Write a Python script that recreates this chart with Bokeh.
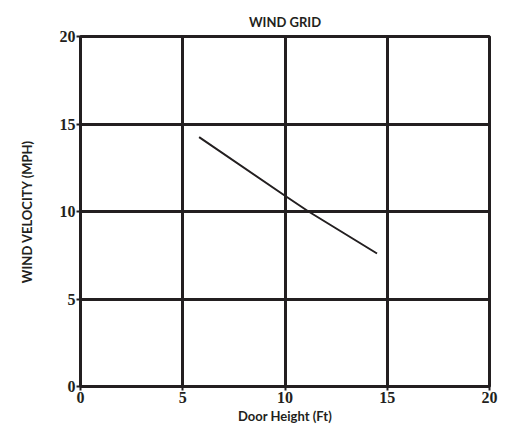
from bokeh.plotting import figure
from bokeh.embed import file_html
from bokeh.resources import INLINE
from bokeh.models import Range1d, FixedTicker

door_height = [5.8, 10.0, 11.15, 14.5]
wind_velocity = [14.25, 10.9, 10.0, 7.6]
x_ticks = [0, 5, 10, 15, 20]
y_ticks = [0, 5, 10, 15, 20]
title_text = "WIND GRID"

ink = "#231f20"

p = figure(width=498, height=426, output_backend="svg", toolbar_location=None,
           x_range=Range1d(0, 20), y_range=Range1d(0, 20), title=title_text,
           min_border_left=80, min_border_right=9, min_border_top=36, min_border_bottom=39)

p.title.align = "center"
p.title.offset = -6
p.title.text_font = "Lato"
p.title.text_font_style = "bold"
p.title.text_font_size = "13px"
p.title.text_color = ink
p.title.standoff = 14

p.line(door_height, wind_velocity, line_color=ink, line_width=2)

for ax in (p.xaxis[0], p.yaxis[0]):
    ax.axis_line_color = ink
    ax.axis_line_width = 3
    ax.major_tick_line_color = ink
    ax.major_tick_line_width = 2
    ax.major_tick_in = 0
    ax.major_tick_out = 4
    ax.minor_tick_line_color = None
    ax.major_label_text_font = "Liberation Serif"
    ax.major_label_text_font_style = "bold"
    ax.major_label_text_font_size = "16px"
    ax.major_label_text_color = ink
    ax.axis_label_text_font = "Lato"
    ax.axis_label_text_font_style = "bold"
    ax.axis_label_text_font_size = "13px"
    ax.axis_label_text_color = ink

p.xaxis[0].ticker = FixedTicker(ticks=x_ticks)
p.yaxis[0].ticker = FixedTicker(ticks=y_ticks)
p.xaxis[0].axis_label = "Door Height (Ft)"
p.yaxis[0].axis_label = "WIND VELOCITY (MPH)"
p.xaxis[0].major_label_standoff = 1
p.yaxis[0].major_label_standoff = 1
p.xaxis[0].axis_label_standoff = 2
p.yaxis[0].axis_label_standoff = 22

for g in (p.xgrid[0], p.ygrid[0]):
    g.grid_line_color = ink
    g.grid_line_width = 3
    g.grid_line_alpha = 1.0

p.outline_line_color = ink
p.outline_line_width = 3
p.background_fill_color = "white"
p.border_fill_color = "white"

open("out.html", "w").write(file_html(p, INLINE))
